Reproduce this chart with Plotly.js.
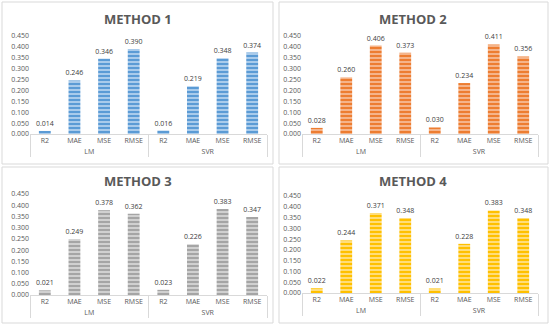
<!DOCTYPE html>
<html>
<head>
<meta charset="utf-8">
<script src="https://cdn.plot.ly/plotly-3.0.1.min.js"></script>
<style>html,body{margin:0;padding:0;background:#fff;}#chart{width:550px;height:329px;}</style>
</head>
<body>
<div id="chart"></div>
<script>
const metrics = ['R2', 'MAE', 'MSE', 'RMSE'];
const models = ['LM', 'SVR'];
const method1 = [0.014, 0.246, 0.346, 0.390, 0.016, 0.219, 0.348, 0.374];
const method2 = [0.028, 0.260, 0.406, 0.373, 0.030, 0.234, 0.411, 0.356];
const method3 = [0.021, 0.249, 0.378, 0.362, 0.023, 0.226, 0.383, 0.347];
const method4 = [0.022, 0.244, 0.371, 0.348, 0.021, 0.228, 0.383, 0.348];
const titles = ['METHOD 1', 'METHOD 2', 'METHOD 3', 'METHOD 4'];

const groupRow = [], catRow = [];
models.forEach(m => metrics.forEach(c => { groupRow.push(m); catRow.push(c); }));

const W = 550, H = 329;
const series = [method1, method2, method3, method4];
const baseColors = ['#5B9BD5', '#ED7D31', '#A5A5A5', '#FFC000'];
const stripeColors = ['#A9CBEB', '#F5B48A', '#D0D0D0', '#FFDD7A'];

// pixel boxes for plot areas: [x0, x1, yTop, yBottom]
const boxes = [[30, 267, 36, 134], [302, 538, 36, 134], [30, 267, 194, 295], [302, 538, 196, 293]];
// panel frames [x0, y0, x1, y1]
const frames = [[2, 2, 273, 164], [279, 2, 548, 164], [2, 167, 273, 323], [279, 167, 548, 323]];
const titlePos = [[138, 19], [413, 19], [138, 181], [413, 181]];

const traces = [];
const layout = {
  width: W, height: H,
  margin: {l: 0, r: 0, t: 0, b: 0},
  paper_bgcolor: '#ffffff', plot_bgcolor: '#ffffff',
  showlegend: false,
  bargap: 0.6,
  font: {family: 'Open Sans, sans-serif', color: '#595959'},
  shapes: [], annotations: []
};

series.forEach((vals, i) => {
  const n = i + 1;
  const xa = n === 1 ? 'x' : 'x' + n, ya = n === 1 ? 'y' : 'y' + n;
  traces.push({
    type: 'bar', x: [groupRow, catRow], y: vals,
    xaxis: xa, yaxis: ya,
    marker: {color: baseColors[i], line: {width: 0},
      pattern: {shape: '-', fillmode: 'replace', bgcolor: baseColors[i], fgcolor: stripeColors[i], size: 4, solidity: 0.5}},
    texttemplate: '%{y:.3f}', textposition: 'outside', cliponaxis: false,
    constraintext: 'none',
    textfont: {size: 7, color: '#404040'},
    hoverinfo: 'none'
  });
  const b = boxes[i];
  layout['xaxis' + (n === 1 ? '' : n)] = {
    type: 'multicategory', anchor: ya,
    domain: [b[0] / W, b[1] / W],
    showline: true, linecolor: '#D9D9D9', linewidth: 1,
    showgrid: false, ticks: '', zeroline: false,
    showdividers: true, dividercolor: '#D9D9D9', dividerwidth: 1,
    tickfont: {size: 7, color: '#595959'}
  };
  layout['yaxis' + (n === 1 ? '' : n)] = {
    anchor: xa,
    domain: [1 - b[3] / H, 1 - b[2] / H],
    range: [0, 0.45], dtick: 0.05, tick0: 0, tickformat: '.3f',
    showgrid: false, showline: false, zeroline: false, ticks: '',
    tickfont: {size: 7, color: '#595959'}
  };
  const f = frames[i];
  layout.shapes.push({type: 'rect', xref: 'paper', yref: 'paper',
    x0: f[0] / W, x1: f[2] / W, y0: 1 - f[3] / H, y1: 1 - f[1] / H,
    line: {color: '#D9D9D9', width: 1}, fillcolor: 'rgba(0,0,0,0)', layer: 'below'});
  layout.annotations.push({text: '<b>' + titles[i] + '</b>', xref: 'paper', yref: 'paper',
    x: titlePos[i][0] / W, y: 1 - titlePos[i][1] / H, xanchor: 'center', yanchor: 'middle',
    showarrow: false, font: {size: 13, color: '#595959', family: 'Open Sans, sans-serif'}});
});

Plotly.newPlot('chart', traces, layout, {displayModeBar: false, staticPlot: true});
</script>
</body>
</html>
